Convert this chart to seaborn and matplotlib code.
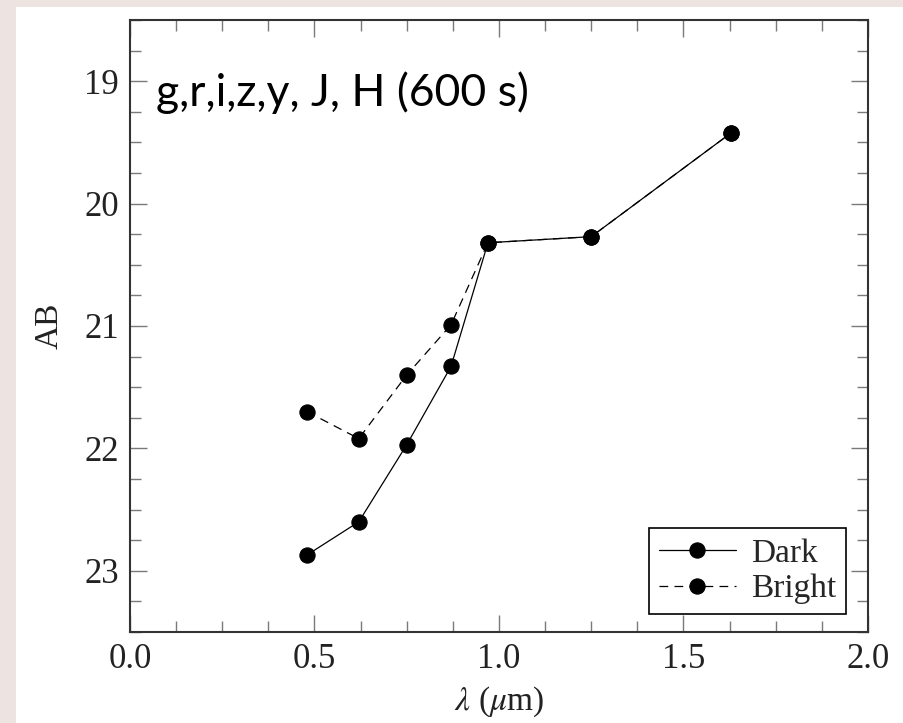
import matplotlib
matplotlib.use("Agg")
import matplotlib.pyplot as plt
import seaborn as sns
import pandas as pd
from matplotlib.patches import Rectangle
from matplotlib.ticker import MultipleLocator, FormatStrFormatter

# data
wavelength = [0.48, 0.62, 0.75, 0.87, 0.97, 1.25, 1.63]      # g r i z y J H (micron)
dark_ab = [22.87, 22.60, 21.97, 21.33, 20.32, 20.27, 19.42]
bright_ab = [21.70, 21.92, 21.40, 20.99, 20.32, 20.27, 19.42]
series_names = ["Dark", "Bright"]
panel_text = "g,r,i,z,y, J, H (600 s)"

sns.set_theme(style="ticks")
plt.rcParams["font.family"] = ["Liberation Serif", "DejaVu Serif"]
plt.rcParams["mathtext.fontset"] = "stix"

fig = plt.figure(figsize=(9.04, 7.23), dpi=100, facecolor="#ede4e1")
# white card behind the plot
fig.patches.append(Rectangle((16 / 904, 0), 887 / 904, 716 / 723,
                             transform=fig.transFigure, facecolor="white",
                             edgecolor="none", zorder=-10))

ax = fig.add_axes([130 / 904, 91 / 723, 738 / 904, 612 / 723])
ax.set_facecolor("white")

df = pd.DataFrame({"wl": wavelength, "dark": dark_ab, "bright": bright_ab})

sns.lineplot(data=df, x="wl", y="dark", ax=ax, color="black", lw=0.9,
             marker="o", markersize=11, markeredgecolor="black",
             label=series_names[0])
sns.lineplot(data=df, x="wl", y="bright", ax=ax, color="black", lw=0.9,
             marker="o", markersize=11, markeredgecolor="black",
             dashes=(7, 5), label=series_names[1])

ax.set_xlim(0, 2)
ax.set_ylim(23.5, 18.5)
ax.xaxis.set_major_locator(MultipleLocator(0.5))
ax.xaxis.set_minor_locator(MultipleLocator(0.125))
ax.yaxis.set_major_locator(MultipleLocator(1))
ax.yaxis.set_minor_locator(MultipleLocator(0.25))
ax.xaxis.set_major_formatter(FormatStrFormatter("%.1f"))

ax.tick_params(which="both", direction="in", top=True, right=True,
               color="#7a7a7a", width=1.0, labelsize=25, labelcolor="#222222")
ax.tick_params(which="major", length=12, pad=8)
ax.tick_params(which="minor", length=8)
for s in ax.spines.values():
    s.set_color("#333333")
    s.set_linewidth(1.5)

ax.set_xlabel(r"$\lambda$ ($\mu$m)", fontsize=24, color="#222222", labelpad=6)
ax.set_ylabel("AB", fontsize=24, color="#222222", labelpad=14)

ax.text(0.035, 0.86, panel_text, transform=ax.transAxes,
        fontsize=32, family=["Lato", "DejaVu Sans"], color="black",
        va="baseline", ha="left")

leg = ax.legend(loc="lower right", bbox_to_anchor=(0.970, 0.029),
                fontsize=24, frameon=True, fancybox=False,
                edgecolor="black", handlelength=2.3, handletextpad=0.45,
                borderpad=0.3, labelspacing=0.15, borderaxespad=0)
leg.get_frame().set_linewidth(1.2)
leg.get_frame().set_alpha(1)

fig.savefig("out.png", dpi=100, facecolor=fig.get_facecolor())
